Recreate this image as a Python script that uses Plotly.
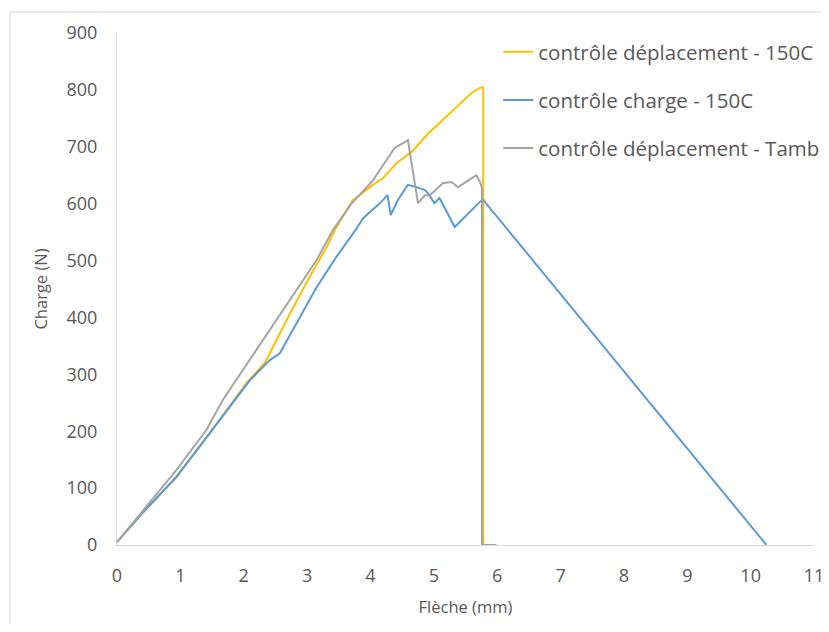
import plotly.graph_objects as go

# contrôle déplacement - 150C
x_dep150 = [0, 0.4, 0.94, 1.47, 2.04, 2.33, 2.41, 2.73, 3.04, 3.31, 3.44, 3.6, 3.72, 3.83, 4.0, 4.2, 4.41, 4.65, 4.9, 5.14, 5.4, 5.6, 5.72, 5.77, 5.78, 5.78]
y_dep150 = [5, 56, 120, 197, 284, 320, 337, 407, 471, 524, 554, 585, 606, 615, 630, 645, 671, 691, 722, 747, 775, 795, 803, 805, 800, 0]

# contrôle charge - 150C
x_ch150 = [0, 0.4, 0.94, 1.47, 2.1, 2.26, 2.41, 2.57, 2.83, 3.15, 3.46, 3.78, 3.88, 4.15, 4.27, 4.32, 4.43, 4.59, 4.73, 4.86, 4.91, 5.01, 5.09, 5.33, 5.77, 10.25]
y_ch150 = [5, 56, 120, 197, 290, 308, 325, 337, 390, 453, 506, 556, 574, 601, 615, 580, 606, 633, 629, 624, 618, 601, 610, 559, 608, 0]

# contrôle déplacement - Tamb
x_tamb = [0, 0.41, 0.94, 1.41, 1.67, 2.2, 2.83, 3.15, 3.41, 3.7, 4.04, 4.38, 4.54, 4.59, 4.75, 4.86, 4.94, 5.14, 5.28, 5.38, 5.67, 5.73, 5.76, 5.76, 5.99]
y_tamb = [5, 61, 132, 202, 255, 343, 448, 501, 554, 600, 641, 698, 708, 712, 601, 615, 615, 636, 638, 629, 650, 638, 627, 0, 0]

x_ticks = list(range(0, 12))
y_ticks = list(range(0, 1000, 100))

font_family = "Open Sans, Liberation Sans, sans-serif"
txt = "#595959"

fig = go.Figure()
fig.add_trace(go.Scatter(x=x_dep150, y=y_dep150, mode="lines", name="contrôle déplacement - 150C",
                         legendgroup="a", line=dict(color="#FFC000", width=2)))
fig.add_trace(go.Scatter(x=x_ch150, y=y_ch150, mode="lines", name="contrôle charge - 150C",
                         legendgroup="b", line=dict(color="#5B9BD5", width=2)))
fig.add_trace(go.Scatter(x=x_tamb, y=y_tamb, mode="lines", name="contrôle déplacement - Tamb",
                         legendgroup="c", line=dict(color="#A5A5A5", width=2)))

fig.update_layout(
    width=821, height=616,
    margin=dict(l=109, r=15, t=25, b=79, autoexpand=False),
    paper_bgcolor="white", plot_bgcolor="white",
    font=dict(family=font_family, size=17, color=txt),
    showlegend=True,
    legend=dict(x=0.547, y=1.002, xanchor="left", yanchor="top",
                bgcolor="rgba(0,0,0,0)", font=dict(size=20.5, color=txt),
                itemwidth=30, tracegroupgap=18.5),
    xaxis=dict(range=[0, 11], tickvals=x_ticks, showgrid=False, zeroline=False,
               automargin=False,
               showline=True, linecolor="#D9D9D9", linewidth=1,
               ticks="outside", ticklen=14, tickcolor="rgba(0,0,0,0)",
               tickfont=dict(size=18, color=txt),
               title=dict(text="Flèche (mm)", font=dict(size=16.5, color=txt), standoff=15)),
    yaxis=dict(range=[0, 900], tickvals=y_ticks, showgrid=False, zeroline=False,
               automargin=False,
               showline=True, linecolor="#D9D9D9", linewidth=1,
               ticks="outside", ticklen=15, tickcolor="rgba(0,0,0,0)",
               tickfont=dict(size=18, color=txt),
               title=dict(text="Charge (N)", font=dict(size=16.5, color=txt), standoff=14)),
    shapes=[
        dict(type="line", xref="paper", yref="paper", x0=-0.1535, x1=1.03, y0=1.041, y1=1.041,
             line=dict(color="#D9D9D9", width=1)),
        dict(type="line", xref="paper", yref="paper", x0=-0.1535, x1=-0.1535, y0=1.041, y1=-0.2,
             line=dict(color="#D9D9D9", width=1)),
    ],
)

fig.write_html("out.html")
